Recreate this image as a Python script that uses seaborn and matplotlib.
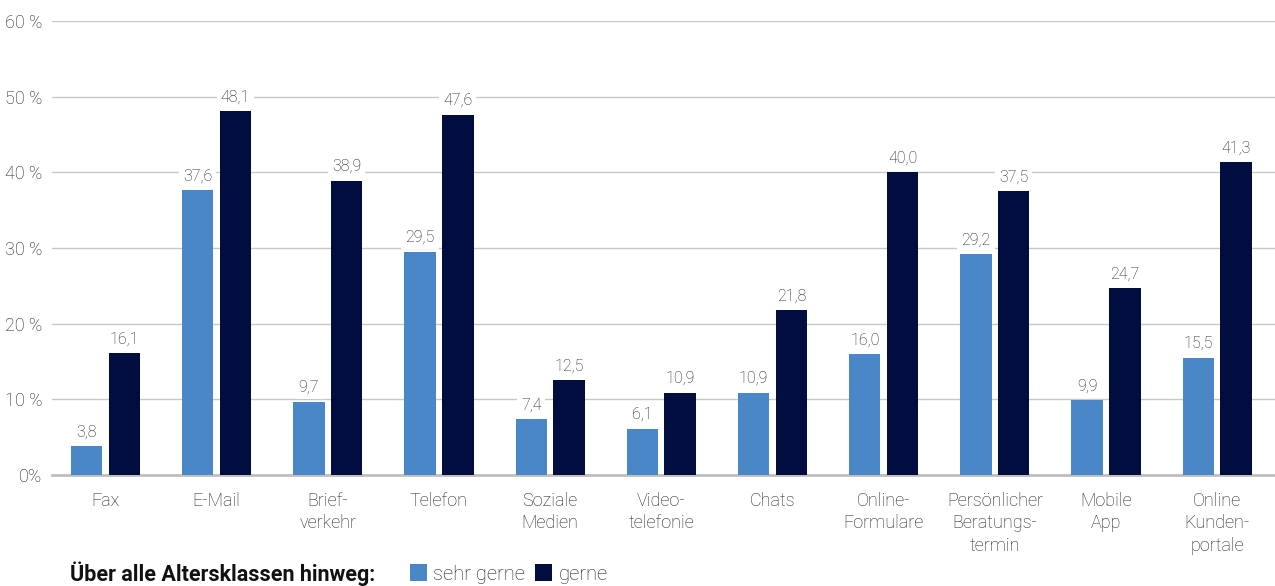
import matplotlib
matplotlib.use("Agg")
import matplotlib.pyplot as plt
import pandas as pd
import seaborn as sns

# Werte aus der Grafik (Prozent)
kanaele = ["Fax", "E-Mail", "Brief-\nverkehr", "Telefon", "Soziale\nMedien",
           "Video-\ntelefonie", "Chats", "Online-\nFormulare",
           "Persönlicher\nBeratungs-\ntermin", "Mobile\nApp",
           "Online\nKunden-\nportale"]
sehr_gerne = [3.8, 37.6, 9.7, 29.5, 7.4, 6.1, 10.9, 16.0, 29.2, 9.9, 15.5]
gerne = [16.1, 48.1, 38.9, 47.6, 12.5, 10.9, 21.8, 40.0, 37.5, 24.7, 41.3]
gruppen = ["sehr gerne", "gerne"]
farben = ["#4A87C6", "#000D3E"]
y_ticks = [0, 10, 20, 30, 40, 50, 60]
y_labels = ["0%", "10 %", "20 %", "30 %", "40 %", "50 %", "60 %"]

df = pd.DataFrame({
    "Kanal": kanaele * 2,
    "Gruppe": [gruppen[0]] * len(kanaele) + [gruppen[1]] * len(kanaele),
    "Wert": sehr_gerne + gerne,
})

sns.set_style("white")
plt.rcParams["font.family"] = ["Roboto", "DejaVu Sans"]
text_farbe = "#1E1E1E"

fig = plt.figure(figsize=(12.75, 5.86), dpi=100)
ax = fig.add_axes([52 / 1275, 111 / 586, 1223 / 1275, 454 / 586])

sns.barplot(data=df, x="Kanal", y="Wert", hue="Gruppe", hue_order=gruppen,
            palette=farben, width=0.68, gap=0.17, saturation=1,
            linewidth=0, ax=ax, legend=True, zorder=3)

ax.set_xlim(-0.48, len(kanaele) - 0.48)
ax.set_ylim(0, 60)
ax.set_yticks(y_ticks)
ax.set_yticklabels(y_labels, fontsize=13, color=text_farbe, fontweight="light")
ax.tick_params(axis="x", labelsize=13, labelcolor=text_farbe, length=0, pad=12)
ax.tick_params(axis="y", length=0, pad=7)
for lbl in ax.get_xticklabels():
    lbl.set_linespacing(1.33)
    lbl.set_fontweight("light")
ax.set_xlabel("")
ax.set_ylabel("")
ax.yaxis.grid(True, color="#C8C8C8", linewidth=1, zorder=0)
ax.set_axisbelow(True)
for s in ["top", "right", "left"]:
    ax.spines[s].set_visible(False)
ax.spines["bottom"].set_color("#BFBFBF")
ax.spines["bottom"].set_linewidth(2)

for cont in ax.containers:
    for bar in cont:
        h = bar.get_height()
        ax.annotate(f"{h:.1f}".replace(".", ","),
                    (bar.get_x() + bar.get_width() / 2, h),
                    xytext=(0, 7), textcoords="offset points",
                    ha="center", va="baseline", fontsize=11.5,
                    fontweight="light", color=text_farbe,
                    bbox=dict(boxstyle="square,pad=0.25", fc="white", ec="none"),
                    zorder=4)

leg = ax.legend(loc="center left", bbox_to_anchor=(402 / 1275, 12 / 586),
                bbox_transform=fig.transFigure, ncol=2, frameon=False,
                fontsize=14.5, handlelength=0.85, handleheight=0.85,
                handletextpad=0.3, columnspacing=0.5, borderaxespad=0)
for t in leg.get_texts():
    t.set_color(text_farbe)
    t.set_fontweight("light")

fig.text(70 / 1275, 12 / 586, "Über alle Altersklassen hinweg:",
         fontsize=15.5, fontweight="bold", color="#111111",
         ha="left", va="center")

fig.savefig("out.png", dpi=100)
